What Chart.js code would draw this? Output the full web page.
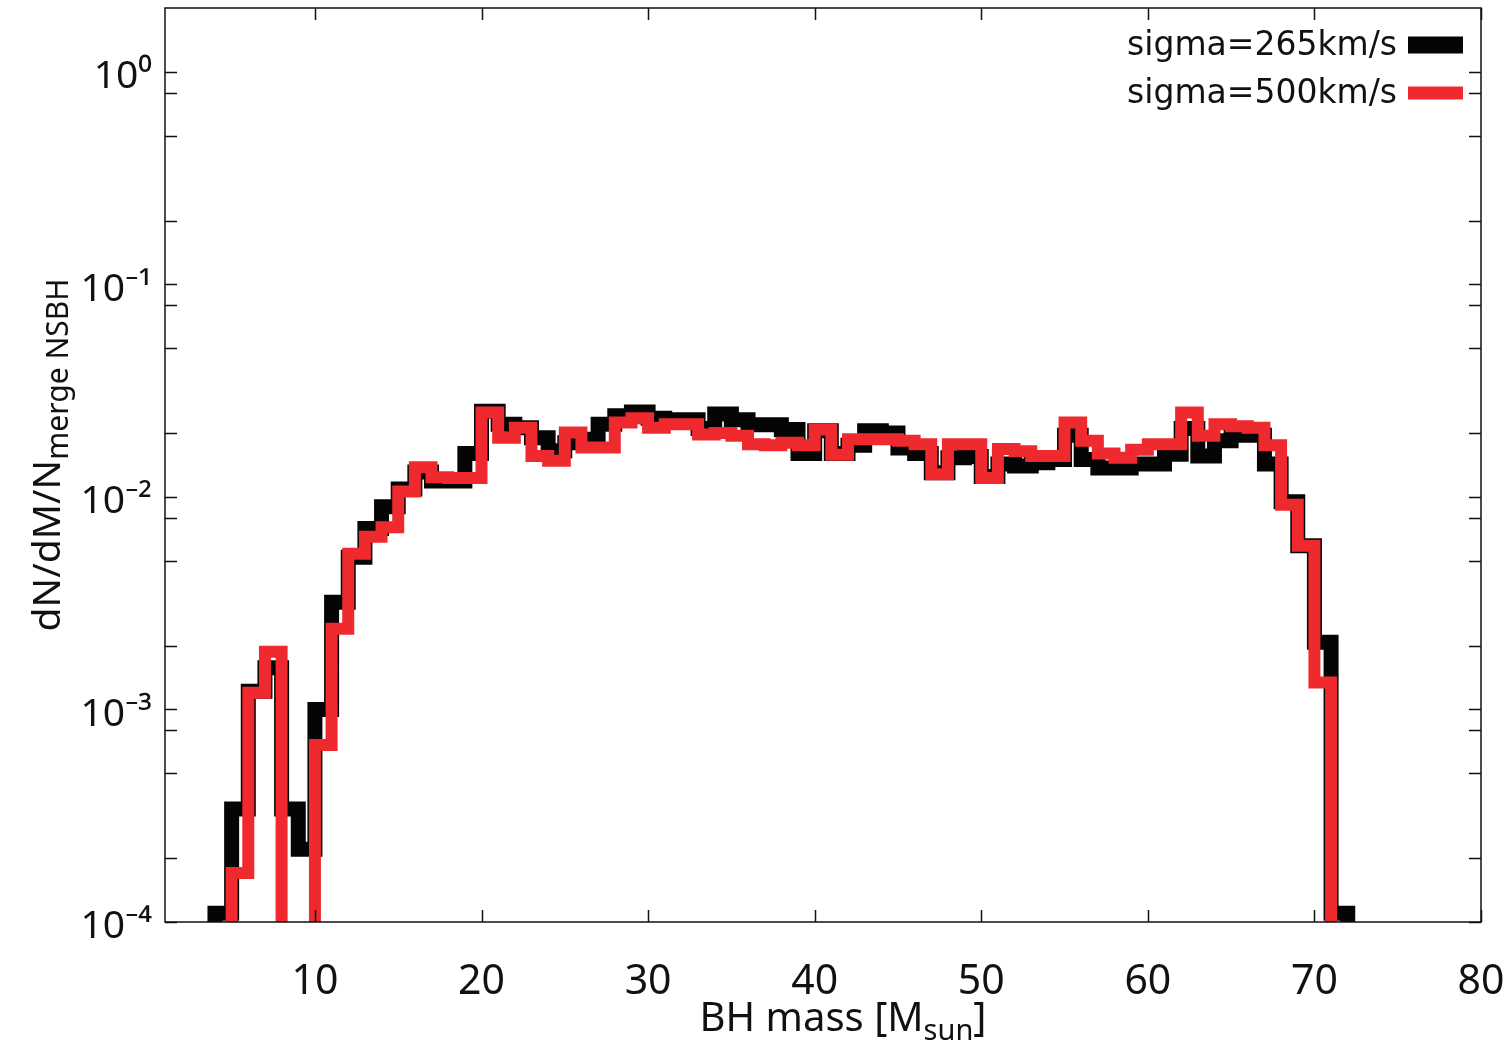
<!DOCTYPE html>
<html>
<head>
<meta charset="utf-8">
<script src="https://cdn.jsdelivr.net/npm/chart.js@4.4.1/dist/chart.umd.min.js"></script>
<style>
html,body{margin:0;padding:0;background:#ffffff;overflow:hidden;}
#c{display:block;}
</style>
</head>
<body>
<canvas id="c" width="1509" height="1044"></canvas>
<script>
// ---------------- DATA ----------------
// left edges of 1 Msun mass bins (last entry closes the final bin)
const massBinEdges = [3,4,5,6,7,8,9,10,11,12,13,14,15,16,17,18,19,20,21,22,23,24,25,26,27,28,29,30,31,32,33,34,35,36,37,38,39,40,41,42,43,44,45,46,47,48,49,50,51,52,53,54,55,56,57,58,59,60,61,62,63,64,65,66,67,68,69,70,71,72,73];

// dN/dM/N_merge NSBH per bin, sigma = 265 km/s (black)
const sigma265 = [0,1.1e-4,3.4e-4,1.22e-3,1.57e-3,3.4e-4,2.2e-4,1.0e-3,3.2e-3,5.2e-3,
  7.1e-3,9.0e-3,1.09e-2,1.31e-2,1.19e-2,1.19e-2,1.6e-2,2.53e-2,2.2e-2,2.12e-2,
  1.9e-2,1.65e-2,1.8e-2,1.87e-2,2.2e-2,2.41e-2,2.51e-2,2.35e-2,2.31e-2,2.31e-2,
  2.1e-2,2.46e-2,2.31e-2,2.19e-2,2.19e-2,2.08e-2,1.6e-2,2.05e-2,1.6e-2,1.75e-2,
  2.05e-2,2.0e-2,1.7e-2,1.6e-2,1.3e-2,1.53e-2,1.55e-2,1.25e-2,1.43e-2,1.4e-2,
  1.45e-2,1.5e-2,1.95e-2,1.5e-2,1.37e-2,1.37e-2,1.43e-2,1.43e-2,1.59e-2,2.1e-2,
  1.56e-2,1.84e-2,1.95e-2,1.95e-2,1.43e-2,9.5e-3,5.9e-3,2.07e-3,1.1e-4,0];

// sigma = 500 km/s (red)
const sigma500 = [0,0,1.7e-4,1.2e-3,1.87e-3,0,0,6.8e-4,2.4e-3,5.4e-3,
  6.5e-3,7.2e-3,1.06e-2,1.38e-2,1.24e-2,1.23e-2,1.23e-2,2.5e-2,1.9e-2,2.12e-2,
  1.56e-2,1.48e-2,2.01e-2,1.71e-2,1.71e-2,2.24e-2,2.35e-2,2.12e-2,2.2e-2,2.2e-2,
  1.97e-2,2.0e-2,1.94e-2,1.77e-2,1.75e-2,1.8e-2,1.75e-2,2.08e-2,1.58e-2,1.87e-2,
  1.87e-2,1.87e-2,1.84e-2,1.77e-2,1.28e-2,1.77e-2,1.77e-2,1.23e-2,1.68e-2,1.64e-2,
  1.56e-2,1.56e-2,2.24e-2,1.84e-2,1.6e-2,1.53e-2,1.67e-2,1.77e-2,1.77e-2,2.5e-2,
  1.94e-2,2.2e-2,2.15e-2,2.12e-2,1.75e-2,9.2e-3,5.9e-3,1.34e-3,0,0];

const seriesLabels = ['sigma=265km/s','sigma=500km/s'];
const xTickValues = [10,20,30,40,50,60,70,80];
const yMajorTicks = [1e-4,1e-3,1e-2,1e-1,1];
const yTickLabels = ['10\u207B\u2074','10\u207B\u00B3','10\u207B\u00B2','10\u207B\u00B9','10\u2070'];
const yMinorTicks = [2e-4,5e-4,8e-4,2e-3,5e-3,8e-3,2e-2,5e-2,8e-2,2e-1,5e-1,8e-1];
const xRange = [1,80];
const yRange = [1e-4,2];
const EMPTY = 1e-7; // empty bins: drawn below the axis floor

// -------------- helpers ---------------
function stepPoints(vals){
  const pts = vals.map((v,i)=>({x:massBinEdges[i], y: v>0 ? v : EMPTY}));
  const last = vals[vals.length-1];
  pts.push({x:massBinEdges[vals.length], y: last>0 ? last : EMPTY});
  return pts;
}

const FONT = '"Noto Sans", "Open Sans", "DejaVu Sans", sans-serif';

const frameTicks = {
  id:'frameTicks',
  afterDatasetsDraw(chart){
    const {ctx, chartArea:a, scales} = chart;
    const xs = scales.x, ys = scales.y;
    ctx.save();
    ctx.strokeStyle = '#111';
    ctx.lineWidth = 1.5;
    ctx.beginPath();
    const L = 12, Lm = 12;
    xTickValues.forEach(v=>{
      const px = Math.round(xs.getPixelForValue(v))+0.5;
      ctx.moveTo(px,a.bottom); ctx.lineTo(px,a.bottom-L);
      ctx.moveTo(px,a.top); ctx.lineTo(px,a.top+L);
    });
    yMajorTicks.forEach(v=>{
      const py = Math.round(ys.getPixelForValue(v))+0.5;
      ctx.moveTo(a.left,py); ctx.lineTo(a.left+L,py);
      ctx.moveTo(a.right,py); ctx.lineTo(a.right-L,py);
    });
    yMinorTicks.forEach(v=>{
      const py = Math.round(ys.getPixelForValue(v))+0.5;
      ctx.moveTo(a.left,py); ctx.lineTo(a.left+Lm,py);
      ctx.moveTo(a.right,py); ctx.lineTo(a.right-Lm,py);
    });
    ctx.stroke();
    ctx.strokeRect(a.left, a.top, a.right-a.left, a.bottom-a.top);
    ctx.restore();
  }
};

const legendTitles = {
  id:'legendTitles',
  afterDraw(chart){
    const {ctx, chartArea:a} = chart;
    ctx.save();
    // legend (text left of sample line, inside plot, top right)
    const ds = chart.data.datasets;
    const order = [1,0]; // black first, red second
    const rows = [45, 93];
    ctx.font = '33px "DejaVu Sans", "Noto Sans", sans-serif';
    ctx.fillStyle = '#111';
    ctx.textAlign = 'right';
    ctx.textBaseline = 'alphabetic';
    order.forEach((di,k)=>{
      const d = ds[di];
      const y = rows[k];
      ctx.fillText(d.label, a.right-84, y+10);
      ctx.strokeStyle = d.borderColor;
      ctx.lineWidth = d.borderWidth + (di===1?2:1);
      ctx.lineCap = 'butt';
      ctx.beginPath();
      ctx.moveTo(a.right-73, y); ctx.lineTo(a.right-18, y);
      ctx.stroke();
    });
    // x title with subscript
    ctx.textAlign = 'left';
    ctx.fillStyle = '#111';
    const main = 'BH mass [M', sub = 'sun', end = ']';
    const fMain = '40px ' + FONT, fSub = '29px ' + FONT;
    ctx.font = fMain; const w1 = ctx.measureText(main).width, w3 = ctx.measureText(end).width;
    ctx.font = fSub; const w2 = ctx.measureText(sub).width;
    const total = w1+w2+w3;
    let x0 = 843 - total/2; const yb = 1031;
    ctx.font = fMain; ctx.fillText(main, x0, yb);
    ctx.font = fSub; ctx.fillText(sub, x0+w1, yb+9);
    ctx.font = fMain; ctx.fillText(end, x0+w1+w2, yb);
    // y title rotated with subscript
    ctx.save();
    ctx.translate(60, 455);
    ctx.rotate(-Math.PI/2);
    const ym = 'dN/dM/N', ys2 = 'merge NSBH';
    const fyM = '39px ' + FONT, fyS = '30px ' + FONT;
    ctx.font = fyM; const v1 = ctx.measureText(ym).width;
    ctx.font = fyS; const v2 = ctx.measureText(ys2).width;
    let s0 = -(v1+v2)/2;
    ctx.font = fyM; ctx.fillText(ym, s0, 0);
    ctx.font = fyS; ctx.fillText(ys2, s0+v1, 8);
    ctx.restore();
    ctx.restore();
  }
};

const ctx = document.getElementById('c').getContext('2d');
new Chart(ctx, {
  type:'line',
  data:{
    datasets:[
      {label:seriesLabels[1], data:stepPoints(sigma500), borderColor:'#ee2a2e', borderWidth:12,
       stepped:'before', pointRadius:0, fill:false, order:0, clip:0,
       borderJoinStyle:'miter', borderCapStyle:'butt'},
      {label:seriesLabels[0], data:stepPoints(sigma265), borderColor:'#050505', borderWidth:15,
       stepped:'before', pointRadius:0, fill:false, order:1, clip:0,
       borderJoinStyle:'miter', borderCapStyle:'butt'}
    ]
  },
  options:{
    responsive:false,
    animation:false,
    devicePixelRatio:1,
    layout:{padding:{left:0,right:28,top:8,bottom:0}},
    plugins:{legend:{display:false}, tooltip:{enabled:false}},
    scales:{
      x:{type:'linear', min:xRange[0], max:xRange[1],
         grid:{display:false, drawTicks:false}, border:{display:false},
         afterBuildTicks(s){ s.ticks = xTickValues.map(v=>({value:v})); },
         afterFit(s){ s.height = 122; s.paddingLeft = 0; s.paddingRight = 0; s.paddingTop = 0; s.paddingBottom = 0; },
         ticks:{font:{family:FONT, size:41}, color:'#111', padding:36, maxRotation:0, autoSkip:false,
                callback:(v)=>String(v)}},
      y:{type:'logarithmic', min:yRange[0], max:yRange[1],
         grid:{display:false, drawTicks:false}, border:{display:false},
         afterBuildTicks(s){ s.ticks = yMajorTicks.map(v=>({value:v})); },
         afterFit(s){ s.width = 165; s.paddingTop = 0; s.paddingBottom = 0; s.paddingLeft = 0; s.paddingRight = 0; },
         ticks:{font:{family:FONT, size:39}, color:'#111', padding:13, labelOffset:5, autoSkip:false,
                callback:(v)=>{ const i = yMajorTicks.findIndex(t=>Math.abs(t-v)/t<1e-6); return i>=0 ? yTickLabels[i] : ''; }}}
    }
  },
  plugins:[frameTicks, legendTitles]
});
</script>
</body>
</html>
